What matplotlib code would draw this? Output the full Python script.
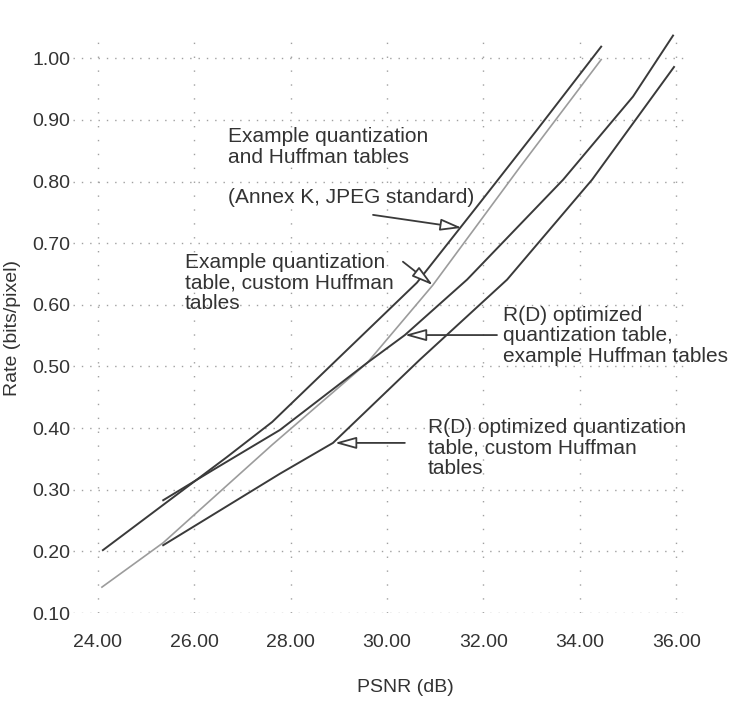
import matplotlib
matplotlib.use("Agg")
import matplotlib.pyplot as plt

plt.rcParams['font.family'] = ['Liberation Sans', 'DejaVu Sans']

# Rate-distortion curves: PSNR (dB) vs. rate (bits/pixel)
psnr_std = [24.11, 26.68, 27.62, 30.62, 31.93, 33.11, 34.44]
rate_std = [0.202, 0.353, 0.410, 0.636, 0.766, 0.884, 1.019]

psnr_std_custom = [24.09, 25.36, 27.62, 29.59, 30.95, 32.76, 34.44]
rate_std_custom = [0.142, 0.214, 0.373, 0.506, 0.632, 0.824, 0.998]

psnr_rd_std = [25.36, 26.39, 27.78, 29.59, 30.37, 31.66, 33.65, 35.10, 35.93]
rate_rd_std = [0.283, 0.332, 0.397, 0.506, 0.551, 0.641, 0.803, 0.938, 1.037]

psnr_rd_custom = [25.36, 27.78, 28.88, 30.68, 32.49, 34.25, 35.95]
rate_rd_custom = [0.210, 0.326, 0.376, 0.511, 0.641, 0.803, 0.986]

x_ticks = [24, 26, 28, 30, 32, 34, 36]
y_ticks = [0.1, 0.2, 0.3, 0.4, 0.5, 0.6, 0.7, 0.8, 0.9, 1.0]

dark = '#3a3a3a'
light = '#9c9c9c'
txt = '#333333'

fig = plt.figure(figsize=(7.33, 7.03), dpi=100)
ax = fig.add_axes([73 / 733, 1 - 613 / 703, (688 - 73) / 733, (613 - 30) / 703])

ax.plot(psnr_std, rate_std, color=dark, lw=1.4)
ax.plot(psnr_std_custom, rate_std_custom, color=light, lw=1.2)
ax.plot(psnr_rd_std, rate_rd_std, color=dark, lw=1.4)
ax.plot(psnr_rd_custom, rate_rd_custom, color=dark, lw=1.4)

ax.set_xlim(23.49, 36.24)
ax.set_ylim(0.10, 1.046)
ax.set_xticks(x_ticks)
ax.set_yticks(y_ticks)
ax.set_xticklabels([f"{v:.2f}" for v in x_ticks])
ax.set_yticklabels([f"{v:.2f}" for v in y_ticks])
ax.tick_params(axis='both', length=0, labelsize=14, labelcolor=txt)
ax.tick_params(axis='x', pad=15)
ax.tick_params(axis='y', pad=2)
for s in ax.spines.values():
    s.set_visible(False)

for v in y_ticks:
    ax.axhline(v, color='#a0a0a0', lw=1.0, ls=(0, (1, 5)), zorder=0)
for v in x_ticks:
    ax.axvline(v, color='#a0a0a0', lw=1.0, ls=(0, (1, 9)), zorder=0)

fig.text(13 / 733, 1 - 328 / 703, "Rate (bits/pixel)", rotation=90,
         ha='center', va='center', fontsize=14, color=txt)
fig.text(405 / 733, 1 - 688 / 703, "PSNR (dB)", ha='center', va='center',
         fontsize=14, color=txt)

fs = 15
ax.text(26.70, 0.856, "Example quantization\nand Huffman tables", ha='left',
        va='center', fontsize=fs, color=txt, linespacing=1.15)
ax.text(26.70, 0.775, "(Annex K, JPEG standard)", ha='left', va='center',
        fontsize=fs, color=txt)
ax.text(25.81, 0.636, "Example quantization\ntable, custom Huffman\ntables",
        ha='left', va='center', fontsize=fs, color=txt, linespacing=1.1)
ax.text(32.40, 0.550, "R(D) optimized\nquantization table,\nexample Huffman tables",
        ha='left', va='center', fontsize=fs, color=txt, linespacing=1.1)
ax.text(30.85, 0.368, "R(D) optimized quantization\ntable, custom Huffman\ntables",
        ha='left', va='center', fontsize=fs, color=txt, linespacing=1.1)

arrow = dict(arrowstyle='-|>,head_length=0.65,head_width=0.18',
             fc='white', ec=dark, lw=1.3, mutation_scale=20,
             shrinkA=0, shrinkB=0)
ax.annotate("", xy=(31.55, 0.725), xytext=(29.71, 0.746), arrowprops=arrow)
ax.annotate("", xy=(30.95, 0.632), xytext=(30.33, 0.670), arrowprops=arrow)
ax.annotate("", xy=(30.37, 0.551), xytext=(32.28, 0.551), arrowprops=arrow)
ax.annotate("", xy=(28.92, 0.376), xytext=(30.37, 0.376), arrowprops=arrow)

fig.savefig("out.png", dpi=100, facecolor='white')
